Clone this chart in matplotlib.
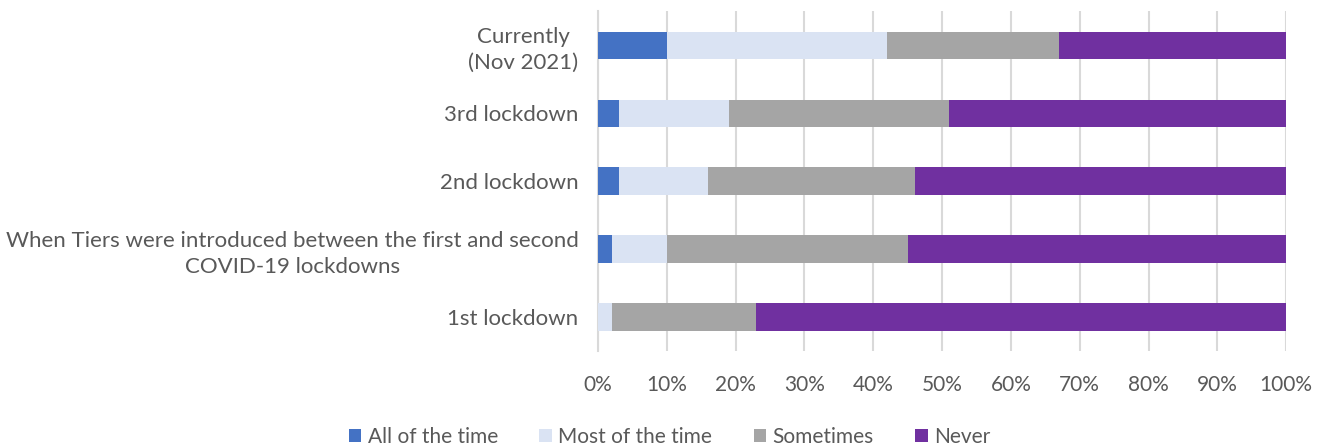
import matplotlib.pyplot as plt
import numpy as np

plt.rcParams['font.family'] = ['Lato', 'DejaVu Sans']

# data (percent), bottom category first
categories = ['1st lockdown',
              'When Tiers were introduced between the first and second\nCOVID-19 lockdowns',
              '2nd lockdown',
              '3rd lockdown',
              'Currently\n(Nov 2021)']
all_time = [0, 2, 3, 3, 10]
most_time = [2, 8, 13, 16, 32]
sometimes = [21, 35, 30, 32, 25]
never = [77, 55, 54, 49, 33]

series = ['All of the time', 'Most of the time', 'Sometimes', 'Never']
colors = ['#4472C4', '#DAE3F3', '#A5A5A5', '#7030A0']

fig = plt.figure(figsize=(13.26, 4.46), dpi=100)
ax = fig.add_axes([0.451, 0.213, 0.519, 0.762])

y = np.arange(len(categories))
left = np.zeros(len(categories))
for vals, name, c in zip([all_time, most_time, sometimes, never], series, colors):
    ax.barh(y, vals, left=left, height=0.4, color=c, label=name, zorder=3)
    left += np.array(vals)

ax.set_xlim(0, 100)
ax.set_ylim(-0.5, len(categories) - 0.5)
ax.set_xticks(np.arange(0, 101, 10))
ax.set_xticklabels([f'{v}%' for v in range(0, 101, 10)], fontsize=15)
ax.set_yticks(y)
ax.set_yticklabels(categories, multialignment='center', fontsize=16, linespacing=1.35)
ax.tick_params(length=0, colors='#595959')
ax.tick_params(axis='x', pad=17)
ax.tick_params(axis='y', pad=14)
ax.grid(axis='x', color='#D9D9D9', linewidth=1.5, zorder=0)
for s in ['top', 'right', 'bottom']:
    ax.spines[s].set_visible(False)
ax.spines['left'].set_color('#D9D9D9')
ax.spines['left'].set_linewidth(1.5)

fig.legend(loc='center', bbox_to_anchor=(0.505, 0.02), ncol=4, frameon=False,
           fontsize=15, labelcolor='#595959', handlelength=0.6, handleheight=0.6,
           handletextpad=0.3, columnspacing=2.0)

fig.savefig('out.png', dpi=100)
